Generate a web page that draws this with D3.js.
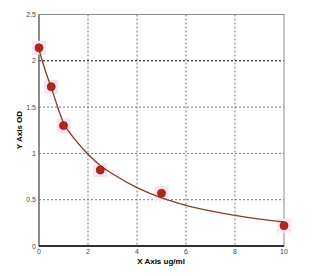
<!DOCTYPE html>
<html>
<head>
<meta charset="utf-8">
<script src="https://cdn.jsdelivr.net/npm/d3@7"></script>
<style>
  body { margin: 0; background: #fff; }
  svg { display: block; font-family: "Liberation Sans", Arial, sans-serif; }
</style>
</head>
<body>
<div class="visHolder"></div>
<script>
const w = 328, h = 276;
const padLeft = 39, padRight = 284, padTop = 14.5, padBottom = 246;

// standard points
const concs = [0, 0.5, 1, 2.5, 5, 10];
const ods = [2.14, 1.72, 1.30, 0.82, 0.57, 0.22];

// fitted curve
const curveX = [0, 0.25, 0.5, 1, 1.5, 2, 2.5, 3, 4, 5, 6, 7, 8, 9, 10];
const curveY = [2.12, 1.90, 1.71, 1.33, 1.14, 0.99, 0.87, 0.78, 0.63, 0.52, 0.44, 0.38, 0.33, 0.29, 0.26];

const xTicks = [0, 2, 4, 6, 8, 10];
const yTicks = [0, 0.5, 1, 1.5, 2, 2.5];

const svg = d3.select('.visHolder')
  .append('svg')
  .attr('width', w)
  .attr('height', h);

const xScale = d3.scaleLinear().domain([0, 10]).range([padLeft, padRight]);
const yScale = d3.scaleLinear().domain([0, 2.5]).range([padBottom, padTop]);

// grid
svg.append('g')
  .selectAll('line')
  .data(xTicks.slice(1, -1))
  .join('line')
  .attr('x1', d => xScale(d)).attr('x2', d => xScale(d))
  .attr('y1', padTop).attr('y2', padBottom)
  .attr('stroke', '#777')
  .attr('stroke-dasharray', '2,2');

svg.append('g')
  .selectAll('line')
  .data(yTicks.slice(1, -1))
  .join('line')
  .attr('x1', padLeft).attr('x2', padRight)
  .attr('y1', d => yScale(d)).attr('y2', d => yScale(d))
  .attr('stroke', d => d === 2 ? '#000' : '#777')
  .attr('stroke-dasharray', '2,2');

// frame
svg.append('rect')
  .attr('x', padLeft).attr('y', padTop)
  .attr('width', padRight - padLeft).attr('height', padBottom - padTop)
  .attr('fill', 'none')
  .attr('stroke', '#888');

svg.append('line')
  .attr('x1', padLeft).attr('x2', padLeft).attr('y1', padTop).attr('y2', padBottom)
  .attr('stroke', '#555');
svg.append('line')
  .attr('x1', padLeft).attr('x2', padRight).attr('y1', padBottom).attr('y2', padBottom)
  .attr('stroke', '#000').attr('stroke-width', 1.5);

// tick labels
svg.append('g')
  .selectAll('text')
  .data(yTicks)
  .join('text')
  .attr('x', padLeft - 3)
  .attr('y', d => yScale(d) + 2.5)
  .attr('text-anchor', 'end')
  .attr('font-size', 7)
  .attr('fill', '#444')
  .text(d => d);

svg.append('g')
  .selectAll('text')
  .data(xTicks)
  .join('text')
  .attr('x', d => xScale(d))
  .attr('y', padBottom + 8)
  .attr('text-anchor', 'middle')
  .attr('font-size', 7)
  .attr('fill', '#444')
  .text(d => d);

// axis titles
svg.append('text')
  .attr('x', 161).attr('y', 264)
  .attr('text-anchor', 'middle')
  .attr('font-size', 8).attr('font-weight', 'bold')
  .text('X Axis ug/ml');

svg.append('text')
  .attr('transform', 'translate(22,130) rotate(-90)')
  .attr('text-anchor', 'middle')
  .attr('font-size', 8).attr('font-weight', 'bold')
  .text('Y Axis OD');

// pale halos behind points
svg.append('g')
  .selectAll('rect')
  .data(concs)
  .join('rect')
  .attr('x', d => xScale(d) - 7)
  .attr('y', (d, i) => yScale(ods[i]) - 7)
  .attr('width', 14).attr('height', 14)
  .attr('fill', '#fbe3f5');

// fitted curve
const line = d3.line()
  .x(d => xScale(d[0]))
  .y(d => yScale(d[1]))
  .curve(d3.curveMonotoneX);

svg.append('path')
  .datum(curveX.map((x, i) => [x, curveY[i]]))
  .attr('d', line)
  .attr('fill', 'none')
  .attr('stroke', '#8b3a1e')
  .attr('stroke-width', 1.3);

// points
svg.append('g')
  .selectAll('circle')
  .data(concs)
  .join('circle')
  .attr('cx', d => xScale(d))
  .attr('cy', (d, i) => yScale(ods[i]))
  .attr('r', 4)
  .attr('fill', '#b3261a')
  .attr('stroke', '#7a2a10')
  .attr('stroke-width', 0.8);
</script>
</body>
</html>
